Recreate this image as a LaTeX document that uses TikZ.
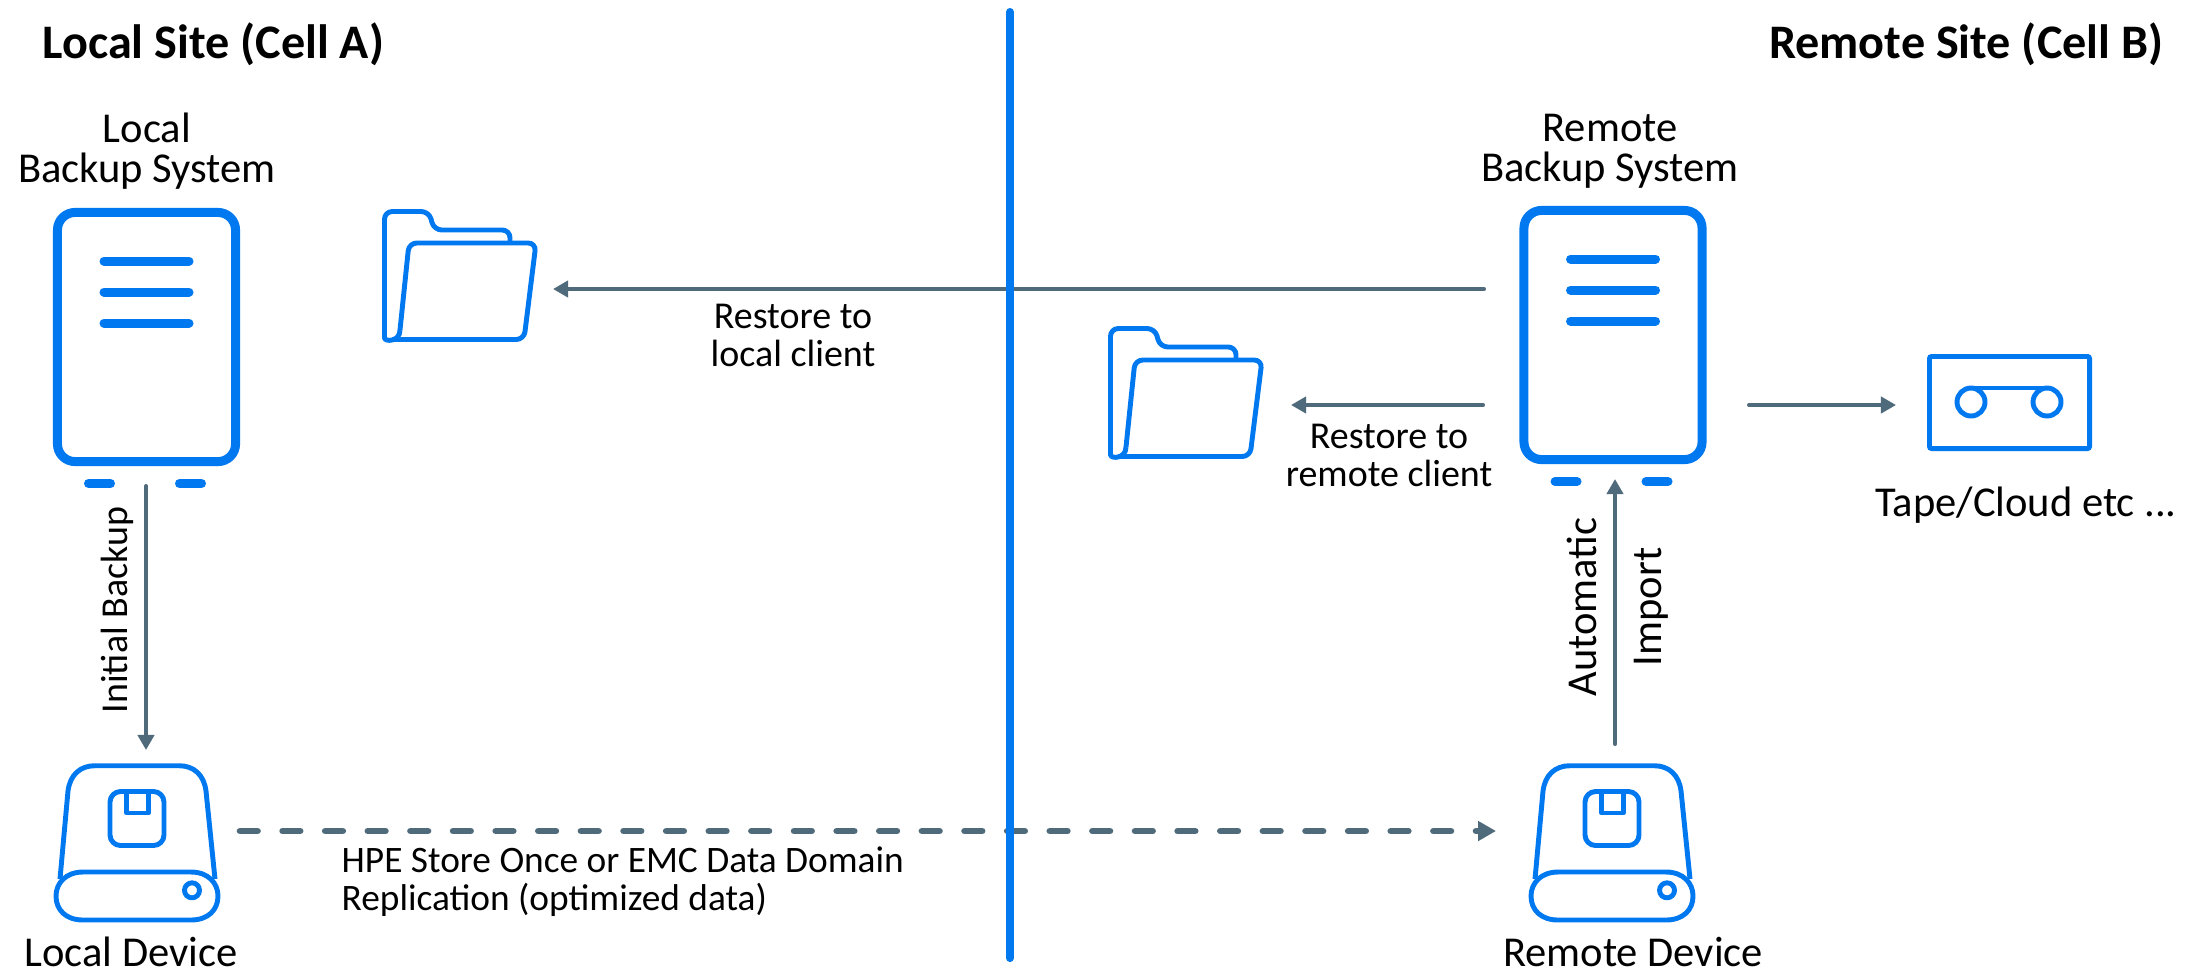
\documentclass[tikz,border=0pt]{standalone}
\usepackage{fontspec}
\setmainfont{Carlito}
\usetikzlibrary{arrows.meta,positioning,calc}
\definecolor{iconblue}{RGB}{0,120,240}
\definecolor{linkgray}{RGB}{79,106,122}
\tikzset{
  server/.style={draw=iconblue, line width=2.56pt, rounded corners=5pt, minimum width=1.78cm, minimum height=2.49cm, inner sep=0pt},
  tapebox/.style={draw=iconblue, line width=1.4pt, rounded corners=0.6pt, minimum width=1.60cm, minimum height=0.92cm, inner sep=0pt},
  iconline/.style={draw=iconblue, line width=1.4pt, line join=round},
  bar/.style={draw=iconblue, line width=2.56pt, line cap=round},
  link/.style={draw=linkgray, line width=1.15pt, line cap=round, -{Triangle[length=4.3pt,width=4.6pt]}},
  replink/.style={draw=linkgray, line width=1.9pt, line cap=round, dash pattern=on 4.98pt off 7.14pt, -{Triangle[length=5.1pt,width=5.4pt]}},
  big/.style={font=\fontsize{12.1}{11.4}\selectfont, align=center, inner sep=0pt},
  small/.style={font=\fontsize{10.8}{10.8}\selectfont, align=center, inner sep=0pt},
  head/.style={font=\fontsize{13.7}{15}\selectfont\bfseries, inner sep=0pt},
  pics/srvbars/.style={code={
    \draw[bar] (-42.5,-76) -- (42.5,-76);
    \draw[bar] (-42.5,-45) -- (42.5,-45);
    \draw[bar] (-42.5,-14) -- (42.5,-14);
    \draw[bar] (-58,146.5) -- (-36,146.5);
    \draw[bar] (33,146.5) -- (55,146.5);
  }},
  pics/folder/.style={code={
    \draw[iconline, rounded corners=2.2pt] (18,121) .. controls (18,133) and (2.5,133) .. (2.5,121) -- (2.5,2.5) -- (47,2.5) -- (52,21) -- (128,21) -- (128,34);
    \draw[iconline, rounded corners=2.2pt] (10,130.5) -- (142,130.5) -- (154,34) -- (27,34) -- (18,121);
  }},
  pics/device/.style={code={
    \draw[iconline] (7,116) -- (15,28) .. controls (17,12) and (27,2.7) .. (42,2.7) -- (126,2.7) .. controls (141,2.7) and (151,12) .. (153,28) -- (162,116);
    \draw[iconline] (30,109) -- (138,109) .. controls (155,109) and (165,120) .. (165,133) .. controls (165,147) and (155,157) .. (138,157) -- (30,157) .. controls (13,157) and (3,147) .. (3,133) .. controls (3,120) and (13,109) .. (30,109) -- cycle;
    \draw[iconline, rounded corners=3pt] (57,28.5) rectangle (111,82.5);
    \draw[iconline] (73.7,28.5) -- (73.7,50) -- (95.3,50) -- (95.3,28.5);
    \draw[iconline] (139,127.3) circle (7.5);
  }}
}
\begin{document}
\begin{tikzpicture}[x=0.01cm, y=-0.01cm]
  \useasboundingbox (0,0) rectangle (2201,972);

  \coordinate (RestoreA) at (1484,289);
  \coordinate (RestoreB) at (553,289);
  \draw[link] (RestoreA) -- (RestoreB);

  \coordinate (RepA) at (240,831);
  \coordinate (RepB) at (1496,831);
  \draw[replink] (RepA) -- (RepB);

  \coordinate (DivTop) at (1010,12);
  \coordinate (DivBot) at (1010,958);
  \draw[iconblue, line width=2.3pt, line cap=round] (DivTop) -- (DivBot);

  \node[head, anchor=west] (LocalHead) at (42,44) {Local Site (Cell A)};
  \node[head, anchor=east] (RemoteHead) at (2164,44) {Remote Site (Cell B)};

  \node[big] (LocalName) at (147,151) {Local\\Backup System};
  \node[big] (RemoteName) at (1610,151) {Remote\\Backup System};

  \node[server] (LocalSrv) at (146.5,337) {};
  \pic at (LocalSrv.center) {srvbars};
  \node[server] (RemoteSrv) at (1613,335) {};
  \pic at (RemoteSrv.center) {srvbars};

  \pic at (382,209) {folder};
  \pic at (1108,326) {folder};
  \pic at (53,763) {device};
  \pic at (1528,763) {device};

  \node[tapebox] (Tape) at (2009.5,402.5) {};
  \draw[iconline] (1971,402) circle (14);
  \draw[iconline] (2047,402) circle (14);
  \draw[iconline] (1971,388) -- (2047,388);

  \node[font=\fontsize{12.1}{11.4}\selectfont, inner sep=0pt, anchor=base] (LocalDev) at (131,966) {Local Device};
  \node[font=\fontsize{12.1}{11.4}\selectfont, inner sep=0pt, anchor=base] (RemoteDev) at (1633,966) {Remote Device};
  \node[big] (TapeName) at (2026,505) {Tape/Cloud etc ...};

  \coordinate (BackupA) at (146,486);
  \coordinate (BackupB) at (146,750);
  \draw[link] (BackupA) -- (BackupB);
  \node[small, rotate=90] (BackupText) at (117,610) {Initial Backup};

  \coordinate (ImportA) at (1615,744);
  \coordinate (ImportB) at (1615,479);
  \draw[link] (ImportA) -- (ImportB);
  \node[big, rotate=90] (AutoText) at (1582,607) {Automatic};
  \node[big, rotate=90] (ImportText) at (1651,607) {Import};

  \node[small] (RestoreLocal) at (793,335) {Restore to\\local client};

  \coordinate (RemoteA) at (1483,405);
  \coordinate (RemoteB) at (1291,405);
  \draw[link] (RemoteA) -- (RemoteB);
  \node[small] (RestoreRemote) at (1389,455) {Restore to\\remote client};

  \coordinate (TapeA) at (1749,405);
  \coordinate (TapeB) at (1896,405);
  \draw[link] (TapeA) -- (TapeB);

  \node[font=\fontsize{10.62}{10.8}\selectfont, inner sep=0pt, align=left, anchor=west] (RepText) at (341,882) {HPE Store Once or EMC Data Domain\\Replication (optimized data)};
\end{tikzpicture}
\end{document}
